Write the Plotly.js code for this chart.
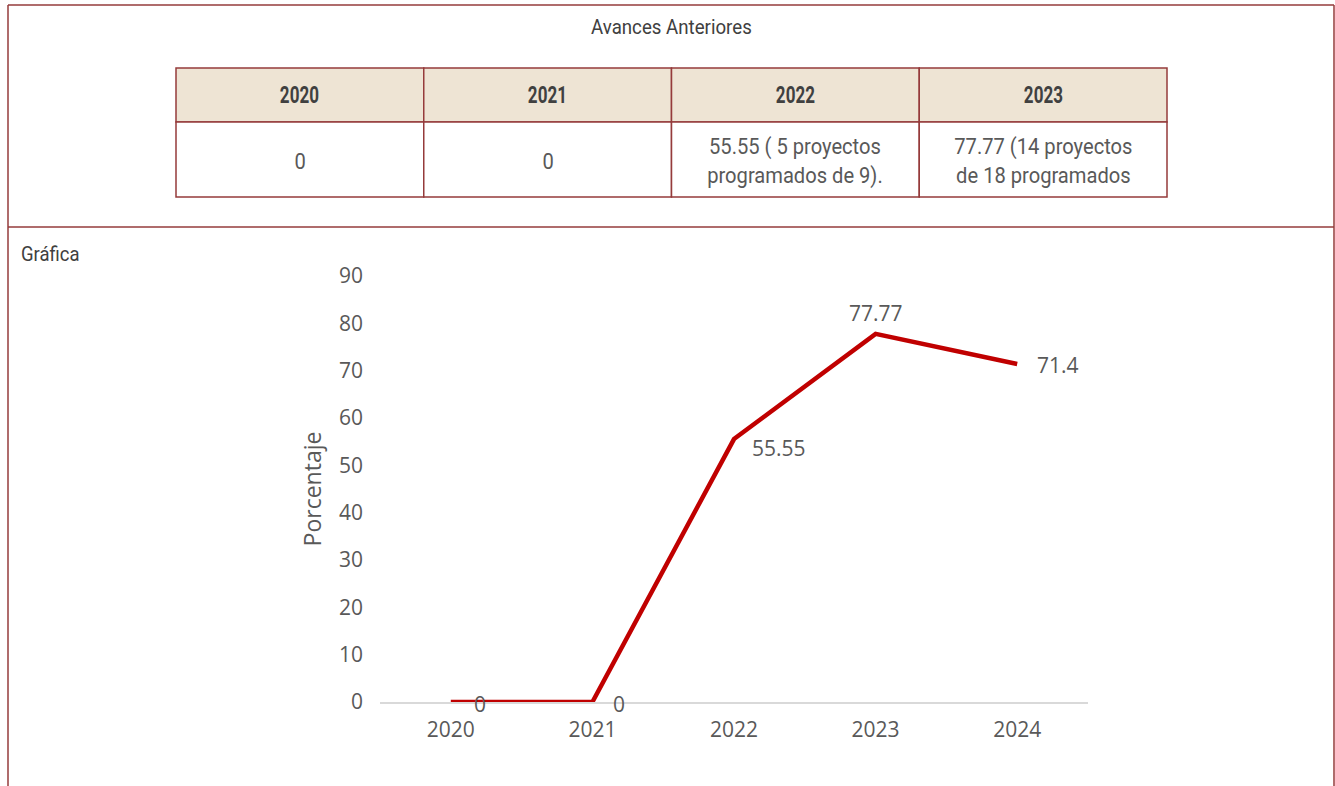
<!DOCTYPE html>
<html>
<head>
<meta charset="utf-8">
<script src="https://cdn.plot.ly/plotly-3.0.1.min.js"></script>
<style>html,body{margin:0;padding:0;background:#fff;}#chart{width:1335px;height:786px;}</style>
</head>
<body>
<div id="chart"></div>
<script>
// ---- data ----
const years = ['2020', '2021', '2022', '2023', '2024'];
const porcentaje = [0, 0, 55.55, 77.77, 71.4];
const dataLabels = ['0', '0', '55.55', '77.77', '71.4'];
const tableHeaders = ['2020', '2021', '2022', '2023'];
const tableValues = ['0', '0', '55.55 ( 5 proyectos<br>programados de 9).', '77.77 (14 proyectos<br>de 18 programados'];
const tableTitle = 'Avances Anteriores';
const sectionLabel = 'Gráfica';
const yTickVals = [0, 10, 20, 30, 40, 50, 60, 70, 80, 90];

// ---- styling / layout helpers ----
const W = 1335, H = 786;
const px = x => x / W;
const py = y => 1 - y / H;
const frameColor = '#953b3b';
const textGrey = '#595959';
const condensed = 'Roboto, "DejaVu Sans", sans-serif';
const chartFont = '"Open Sans", Lato, sans-serif';

// label offsets (style) per point
const labelStyle = [
  {xanchor: 'left', xshift: 21, yshift: -2},
  {xanchor: 'left', xshift: 19, yshift: -2},
  {xanchor: 'left', xshift: 16, yshift: -9},
  {xanchor: 'center', xshift: 0, yshift: 21},
  {xanchor: 'left', xshift: 18, yshift: -1}
];

const shapes = [];
const annotations = [];
const squeeze = []; // horizontal condensing per annotation (style only)

function addAnn(a, sx, origin) { annotations.push(a); squeeze.push(sx ? {sx: sx, origin: origin || 'center'} : null); }

// outer frame
const fl = {color: frameColor, width: 1.5};
shapes.push({type: 'line', xref: 'paper', yref: 'paper', x0: px(8), x1: px(1334), y0: py(5), y1: py(5), line: fl});
shapes.push({type: 'line', xref: 'paper', yref: 'paper', x0: px(8), x1: px(1334), y0: py(227), y1: py(227), line: fl});
shapes.push({type: 'line', xref: 'paper', yref: 'paper', x0: px(8), x1: px(8), y0: py(5), y1: py(800), line: fl});
shapes.push({type: 'line', xref: 'paper', yref: 'paper', x0: px(1334), x1: px(1334), y0: py(5), y1: py(800), line: fl});

// table
const tL = 176, tR = 1167, tTop = 68, tMid = 122, tBot = 197;
const colW = (tR - tL) / tableHeaders.length;
tableHeaders.forEach((h, i) => {
  const x0 = tL + i * colW, x1 = x0 + colW;
  shapes.push({type: 'rect', xref: 'paper', yref: 'paper', x0: px(x0), x1: px(x1), y0: py(tMid), y1: py(tTop),
    fillcolor: '#EEE4D4', line: {color: frameColor, width: 1.5}, layer: 'below'});
  shapes.push({type: 'rect', xref: 'paper', yref: 'paper', x0: px(x0), x1: px(x1), y0: py(tBot), y1: py(tMid),
    fillcolor: '#ffffff', line: {color: frameColor, width: 1.5}, layer: 'below'});
  addAnn({xref: 'paper', yref: 'paper', x: px((x0 + x1) / 2), y: py((tTop + tMid) / 2), text: '<b>' + h + '</b>',
    showarrow: false, xanchor: 'center', yanchor: 'middle', font: {family: condensed, size: 23, color: '#404040'}}, 0.74);
  addAnn({xref: 'paper', yref: 'paper', x: px((x0 + x1) / 2), y: py((tMid + tBot) / 2) - 0.002, text: tableValues[i],
    showarrow: false, xanchor: 'center', yanchor: 'middle', align: 'center',
    font: {family: condensed, size: 22, color: textGrey}}, 0.915);
});

addAnn({xref: 'paper', yref: 'paper', x: px(671), y: py(27), text: tableTitle, showarrow: false,
  xanchor: 'center', yanchor: 'middle', font: {family: condensed, size: 21, color: '#404040'}}, 0.89);
addAnn({xref: 'paper', yref: 'paper', x: px(19), y: py(254), text: sectionLabel, showarrow: false,
  xanchor: 'left', yanchor: 'middle', font: {family: condensed, size: 21, color: '#404040'}}, 0.88, 'left');

// data labels
years.forEach((yr, i) => {
  addAnn({xref: 'x', yref: 'y', x: i, y: porcentaje[i], text: dataLabels[i], showarrow: false,
    xanchor: labelStyle[i].xanchor, yanchor: 'middle', xshift: labelStyle[i].xshift, yshift: labelStyle[i].yshift,
    font: {family: chartFont, size: 21, color: textGrey}});
});

const trace = {
  type: 'scatter', mode: 'lines', x: years, y: porcentaje,
  line: {color: '#C00000', width: 4.5}, hoverinfo: 'x+y', cliponaxis: false
};

const layout = {
  width: W, height: H,
  margin: {l: 0, r: 0, t: 0, b: 0},
  paper_bgcolor: '#ffffff', plot_bgcolor: '#ffffff',
  showlegend: false,
  xaxis: {
    domain: [px(380), px(1088)], anchor: 'y', type: 'category', range: [-0.5, 4.5],
    showgrid: false, zeroline: false, showline: true, linecolor: '#d9d9d9', linewidth: 2,
    ticks: '', ticklabelstandoff: 8, tickfont: {family: chartFont, size: 21, color: textGrey}, fixedrange: true
  },
  yaxis: {
    domain: [py(702), py(276)], anchor: 'x', range: [0, 90], tickvals: yTickVals,
    showgrid: false, zeroline: false, showline: false, ticks: '', ticklabelstandoff: 16,
    tickfont: {family: chartFont, size: 21, color: textGrey},
    title: {text: 'Porcentaje', font: {family: chartFont, size: 23, color: textGrey}, standoff: 10},
    fixedrange: true
  },
  shapes: shapes,
  annotations: annotations
};

Plotly.newPlot('chart', [trace], layout, {displayModeBar: false, staticPlot: true}).then(gd => {
  gd.querySelectorAll('g.annotation').forEach(g => {
    const idx = +g.getAttribute('data-index');
    const s = squeeze[idx];
    if (!s) return;
    const t = g.querySelector('text.annotation-text');
    if (!t) return;
    t.style.transformBox = 'fill-box';
    t.style.transformOrigin = s.origin;
    t.style.transform = 'scaleX(' + s.sx + ')';
  });
});
</script>
</body>
</html>
